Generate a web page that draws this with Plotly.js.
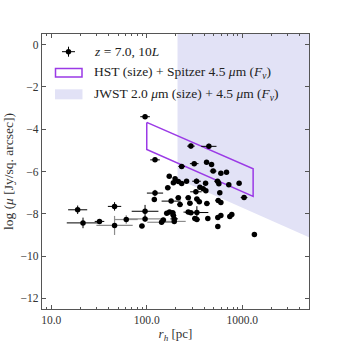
<!DOCTYPE html>
<html>
<head>
<meta charset="utf-8">
<script src="https://cdn.plot.ly/plotly-3.0.1.min.js"></script>
<style>html, body { margin: 0; padding: 0; background: #fff; }</style>
</head>
<body>
<div id="chart" style="width:343px;height:343px"></div>
<script>
// galaxy sizes (pc) and surface brightness (log Jy / sq. arcsec)
const rh = [96, 122, 290, 447, 232, 314, 423, 477, 496, 597, 684, 927, 1045, 1340,
  172, 198, 190, 214, 232, 261, 332, 413, 551, 569, 723, 360, 390, 166,
  122, 120, 180, 214, 223, 272, 327, 335, 283, 355, 416, 426, 582, 560, 597,
  96, 89, 149, 162, 173, 187, 190, 194, 272, 290, 335, 319, 335, 436, 555, 597, 741, 777, 555,
  18.9, 21.5, 32, 46];
const logMu = [-3.41, -5.45, -4.80, -4.81, -5.76, -5.63, -5.56, -5.67, -5.98, -6.08, -6.04, -6.55, -7.23, -8.98,
  -6.22, -6.34, -6.53, -6.47, -6.57, -6.46, -6.46, -6.55, -6.46, -6.58, -6.63, -6.74, -6.82, -6.77,
  -7.02, -7.32, -7.40, -7.24, -7.56, -7.24, -6.96, -7.30, -7.50, -7.43, -6.91, -7.51, -7.00, -7.37, -7.47,
  -7.88, -8.58, -8.29, -7.97, -7.92, -7.95, -8.08, -8.24, -7.92, -7.95, -7.94, -8.22, -8.27, -8.22, -8.18, -8.08, -8.13, -8.03, -8.60,
  -7.81, -8.43, -8.36, -7.65];
// size errors in dex, brightness errors in dex
const rhErrDex = [0.05, 0.05, 0.04, 0.08, 0.035, 0.045, 0.015, 0.015, 0.035, 0.01, 0.01, 0.01, 0.035, 0.005,
  0.02, 0.02, 0.02, 0.025, 0.02, 0.02, 0.045, 0.02, 0.035, 0.02, 0.015, 0.02, 0.02, 0.03,
  0.085, 0.02, 0.1, 0.03, 0.03, 0.03, 0.06, 0.03, 0.03, 0.03, 0.02, 0.03, 0.02, 0.03, 0.02,
  0.14, 0.03, 0.03, 0.03, 0.03, 0.03, 0.03, 0.04, 0.05, 0.03, 0.12, 0.03, 0.03, 0.02, 0.02, 0.02, 0.02, 0.02, 0.01,
  0.1, 0.17, 0.05, 0.07];
const muErr = [0.1, 0.1, 0.12, 0.12, 0.08, 0.1, 0.05, 0.05, 0.08, 0.05, 0.05, 0.05, 0.08, 0.03,
  0.05, 0.06, 0.06, 0.06, 0.06, 0.06, 0.12, 0.05, 0.1, 0.05, 0.05, 0.06, 0.06, 0.06,
  0.15, 0.06, 0.1, 0.08, 0.08, 0.08, 0.12, 0.08, 0.1, 0.1, 0.06, 0.08, 0.08, 0.1, 0.08,
  0.3, 0.1, 0.1, 0.08, 0.08, 0.08, 0.08, 0.08, 0.1, 0.08, 0.3, 0.08, 0.1, 0.06, 0.06, 0.06, 0.06, 0.06, 0.05,
  0.2, 0.25, 0.1, 0.2];

// points whose error bars are drawn faint
const rhFaint = [46, 61, 96, 143, 194];
const logMuFaint = [-8.55, -8.27, -8.24, -8.40, -8.36];
const rhErrDexFaint = [0.19, 0.12, 0.2, 0.15, 0.12];
const muErrFaint = [0.45, 0.2, 0.15, 0.12, 0.1];

// HST + Spitzer selection box corners
const hstR = [100, 1300, 1300, 100, 100];
const hstMu = [-3.68, -5.87, -7.18, -4.96, -3.68];

// JWST accessible region
const jwstR = [210, 5000, 5000, 210, 210];
const jwstMu = [1, 1, -9.11, -6.36, 1];

const legendLabels = [
  '<i>z</i> = 7.0, 10<i>L</i>',
  'HST (size) + Spitzer 4.5 <i>μ</i>m (<i>F</i><sub><i>ν</i></sub>)',
  'JWST 2.0 <i>μ</i>m (size) + 4.5 <i>μ</i>m (<i>F</i><sub><i>ν</i></sub>)'
];

const lo = (r, d) => r.map((v, i) => v - v / Math.pow(10, d[i]));
const hi = (r, d) => r.map((v, i) => v * Math.pow(10, d[i]) - v);

const serif = 'Liberation Serif, Times New Roman, serif';
const purple = '#9b3ae6';
const lavender = '#e2e2f6';

const traces = [
  {
    x: jwstR, y: jwstMu, type: 'scatter', mode: 'lines', fill: 'toself',
    fillcolor: lavender, line: {width: 0, color: lavender}, hoverinfo: 'skip'
  },
  {
    x: hstR, y: hstMu, type: 'scatter', mode: 'lines',
    line: {width: 1.5, color: purple}, hoverinfo: 'skip'
  },
  {
    x: rhFaint, y: logMuFaint, type: 'scatter', mode: 'markers',
    marker: {color: '#000', size: 5.5},
    error_x: {type: 'data', symmetric: false, array: hi(rhFaint, rhErrDexFaint), arrayminus: lo(rhFaint, rhErrDexFaint), color: '#8c8c8c', thickness: 1.2, width: 0},
    error_y: {type: 'data', array: muErrFaint, color: '#8c8c8c', thickness: 1.2, width: 0}
  },
  {
    x: rh, y: logMu, type: 'scatter', mode: 'markers',
    marker: {color: '#000', size: 5.5},
    error_x: {type: 'data', symmetric: false, array: hi(rh, rhErrDex), arrayminus: lo(rh, rhErrDex), color: '#000', thickness: 1, width: 0},
    error_y: {type: 'data', array: muErr, color: '#000', thickness: 1, width: 0}
  }
];

// hand-drawn legend in paper coordinates (plot area is 267 x 275 px)
const px = v => (v - 42) / 267;
const py = v => (309 - v) / 275;
const rowY = [51.7, 72.7, 94.3];

const shapes = [
  // errorbar marker symbol
  {type: 'line', xref: 'paper', yref: 'paper', x0: px(62), x1: px(75), y0: py(rowY[0]), y1: py(rowY[0]), line: {color: '#000', width: 1}},
  {type: 'line', xref: 'paper', yref: 'paper', x0: px(68.5), x1: px(68.5), y0: py(rowY[0] - 5), y1: py(rowY[0] + 5), line: {color: '#000', width: 1}},
  {type: 'circle', xref: 'paper', yref: 'paper', x0: px(65.8), x1: px(71.2), y0: py(rowY[0] - 2.7), y1: py(rowY[0] + 2.7), fillcolor: '#000', line: {color: '#000', width: 0}},
  // open box symbol
  {type: 'rect', xref: 'paper', yref: 'paper', x0: px(55.5), x1: px(82), y0: py(rowY[1] - 4.3), y1: py(rowY[1] + 4.3), line: {color: purple, width: 1.5}},
  // shaded patch symbol
  {type: 'rect', xref: 'paper', yref: 'paper', x0: px(55), x1: px(82.5), y0: py(rowY[2] - 5), y1: py(rowY[2] + 5), fillcolor: lavender, line: {width: 0}}
];

const annotations = legendLabels.map((t, i) => ({
  text: t, xref: 'paper', yref: 'paper', x: px(92), y: py(rowY[i]),
  xanchor: 'left', yanchor: 'middle', showarrow: false,
  font: {family: serif, size: 13.5, color: '#222'}
}));

const layout = {
  width: 343, height: 343,
  margin: {l: 42, r: 34, t: 34, b: 34},
  paper_bgcolor: '#fff', plot_bgcolor: '#fff',
  font: {family: serif, size: 12, color: '#333'},
  showlegend: false,
  shapes, annotations,
  xaxis: {
    type: 'log', range: [Math.log10(8), Math.log10(5000)],
    tickvals: [10, 100, 1000], ticktext: ['10.0', '100.0', '1000.0'],
    ticks: 'inside', ticklen: 4, tickcolor: '#555',
    minor: {ticks: 'inside', ticklen: 2, tickcolor: '#555', dtick: 'D1', showgrid: false},
    showline: true, linecolor: '#555', linewidth: 1.2, mirror: 'ticks',
    showgrid: false, zeroline: false,
    tickfont: {size: 11.5, color: '#333'},
    title: {text: '<i>r</i><sub><i>h</i></sub> [pc]', font: {size: 13, color: '#333'}, standoff: 2}
  },
  yaxis: {
    range: [-12.5, 0.5], dtick: 2,
    ticks: 'inside', ticklen: 4, tickcolor: '#555',
    showline: true, linecolor: '#555', linewidth: 1.2, mirror: 'ticks',
    showgrid: false, zeroline: false,
    tickfont: {size: 11.5, color: '#333'},
    title: {text: 'log (<i>μ</i> [Jy/sq. arcsec])', font: {size: 13.5, color: '#333'}, standoff: 3}
  }
};

Plotly.newPlot('chart', traces, layout, {displayModeBar: false, staticPlot: true});
</script>
</body>
</html>
